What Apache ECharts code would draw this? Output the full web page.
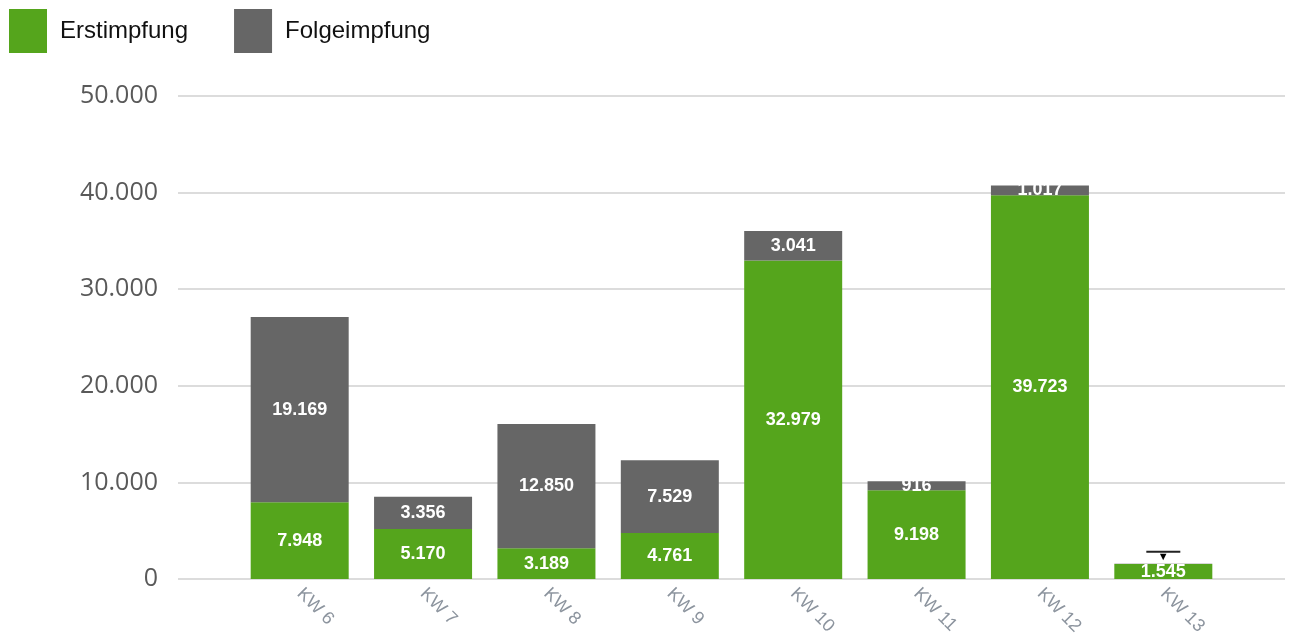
<!DOCTYPE html>
<html>
<head>
<meta charset="utf-8">
<script src="https://cdn.jsdelivr.net/npm/echarts@6/dist/echarts.min.js"></script>
<style>
  html, body { margin: 0; padding: 0; background: #fff; }
  #chart { width: 1290px; height: 640px; }
</style>
</head>
<body>
<div id="chart"></div>
<script>
const categories = ['KW 6', 'KW 7', 'KW 8', 'KW 9', 'KW 10', 'KW 11', 'KW 12', 'KW 13']
const erstimpfung = [7948, 5170, 3189, 4761, 32979, 9198, 39723, 1545]
const folgeimpfung = [19169, 3356, 12850, 7529, 3041, 916, 1017, 30]
const yTicks = [0, 10000, 20000, 30000, 40000, 50000]

const GREEN = '#55a51c'
const GREY = '#666666'

function formatDe(value) {
  return String(Math.round(value)).replace(/\B(?=(\d{3})+(?!\d))/g, '.')
}

const chart = echarts.init(document.getElementById('chart'))

const innerLabel = {
  show: true,
  position: 'inside',
  color: '#fff',
  fontFamily: 'Liberation Sans, Arial, sans-serif',
  fontWeight: 'bold',
  fontSize: 18,
  formatter: p => formatDe(p.value)
}

// the last Folgeimpfung value is too small to label, so it gets a marker instead
const folgeData = folgeimpfung.map((v, i) => {
  if (i === categories.length - 1) {
    return {
      value: v,
      label: {
        show: true,
        position: 'top',
        distance: 2,
        formatter: '{ln|}\n{tri|▼}',
        rich: {
          ln: { width: 34, height: 2, backgroundColor: '#222' },
          tri: { fontSize: 11, color: '#000', lineHeight: 9, align: 'center' }
        }
      }
    }
  }
  return v
})

chart.setOption({
  animation: false,
  legend: {
    left: 9,
    top: 9,
    padding: 0,
    icon: 'rect',
    itemWidth: 38,
    itemHeight: 44,
    itemGap: 46,
    textStyle: {
      fontFamily: 'Liberation Sans, Arial, sans-serif',
      fontSize: 24,
      color: '#111',
      padding: [0, 0, 0, 8]
    },
    data: ['Erstimpfung', 'Folgeimpfung']
  },
  grid: [
    { left: 178, right: 5, top: 96, bottom: 61 },
    { left: 238, right: 65, top: 96, bottom: 61 }
  ],
  xAxis: [
    {
      gridIndex: 0,
      type: 'category',
      data: categories,
      show: false
    },
    {
      gridIndex: 1,
      type: 'category',
      data: categories,
      axisLine: { show: false },
      axisTick: { show: false },
      axisLabel: {
        rotate: -45,
        margin: 12,
        color: '#8c949e',
        fontFamily: 'Liberation Sans, Arial, sans-serif',
        fontSize: 18
      }
    }
  ],
  yAxis: [
    {
      gridIndex: 0,
      type: 'value',
      min: 0,
      max: 50000,
      interval: 10000,
      axisLine: { show: false },
      axisTick: { show: false },
      axisLabel: {
        margin: 20,
        color: '#595959',
        fontFamily: 'Open Sans, sans-serif',
        fontSize: 25,
        formatter: v => yTicks.includes(v) ? formatDe(v) : ''
      },
      splitLine: { lineStyle: { color: '#dcdcdc', width: 2 } }
    },
    {
      gridIndex: 1,
      type: 'value',
      min: 0,
      max: 50000,
      interval: 10000,
      show: false,
      splitLine: { show: false }
    }
  ],
  series: [
    {
      name: 'Erstimpfung',
      type: 'bar',
      stack: 'impf',
      xAxisIndex: 1,
      yAxisIndex: 1,
      barWidth: 98,
      itemStyle: { color: GREEN },
      label: innerLabel,
      data: erstimpfung
    },
    {
      name: 'Folgeimpfung',
      type: 'bar',
      stack: 'impf',
      xAxisIndex: 1,
      yAxisIndex: 1,
      barWidth: 98,
      itemStyle: { color: GREY },
      label: innerLabel,
      data: folgeData
    }
  ]
})
</script>
</body>
</html>
